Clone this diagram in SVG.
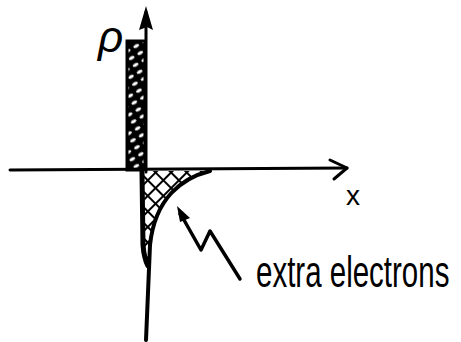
<svg xmlns="http://www.w3.org/2000/svg" width="461" height="342" viewBox="0 0 461 342">
<style>
.ink{stroke:#000;fill:none;stroke-linecap:round;stroke-linejoin:round}
.hand{font-family:"Liberation Sans",Arial,sans-serif;fill:#000}
</style>
<defs>
<pattern id="hatch" patternUnits="userSpaceOnUse" width="11" height="11" patternTransform="rotate(45)">
<rect width="11" height="11" fill="#fff"/>
<path d="M0 0V11M0 0H11" stroke="#000" stroke-width="4"/>
</pattern>
<pattern id="dense" patternUnits="userSpaceOnUse" width="8" height="10" patternTransform="rotate(60)">
<rect width="8" height="10" fill="#000"/>
<ellipse cx="4" cy="5" rx="1.6" ry="3" fill="#fff"/>
</pattern>
</defs>
<rect width="461" height="342" fill="#fff"/>
<g id="pillar">
<rect x="127" y="41" width="18" height="129" fill="url(#dense)" stroke="#000" stroke-width="3"/>
</g>
<g id="electrons">
<path d="M141 171 L210 171 C182 178 155 198 150 245 L147 265 L142 255 Z" fill="url(#hatch)"/>
<path class="ink" stroke-width="4" d="M210 171 C182 178 155 198 150 245 L146 340"/>
<path class="ink" stroke-width="5" d="M142 172 L143 245 Q144 258 148 266"/>
</g>
<g id="connectors">
<path class="ink" stroke-width="3" d="M10 170 L347 168"/>
<path class="ink" stroke-width="3" d="M330 160 L347 168 L334 179"/>
<path class="ink" stroke-width="3" d="M146 172 L146 12"/>
<path d="M146 6 L153 30 L147 27 L139 30 Z" fill="#000"/>
<path class="ink" stroke-width="3.5" d="M240 279 L210 231 L201 250 L184 220 L180 214"/>
<path d="M177 206 L190 218 L180 222 Z" fill="#000"/>
</g>
<g id="labels">
<text class="hand" x="98" y="52" font-size="44" font-style="italic" font-family="Liberation Serif,serif">ρ</text>
<text class="hand" x="353" y="205" font-size="28" text-anchor="middle">x</text>
<text class="hand" transform="translate(256,287) scale(1,1.5)" x="0" y="0" font-size="29.5">extra electrons</text>
</g>
</svg>
